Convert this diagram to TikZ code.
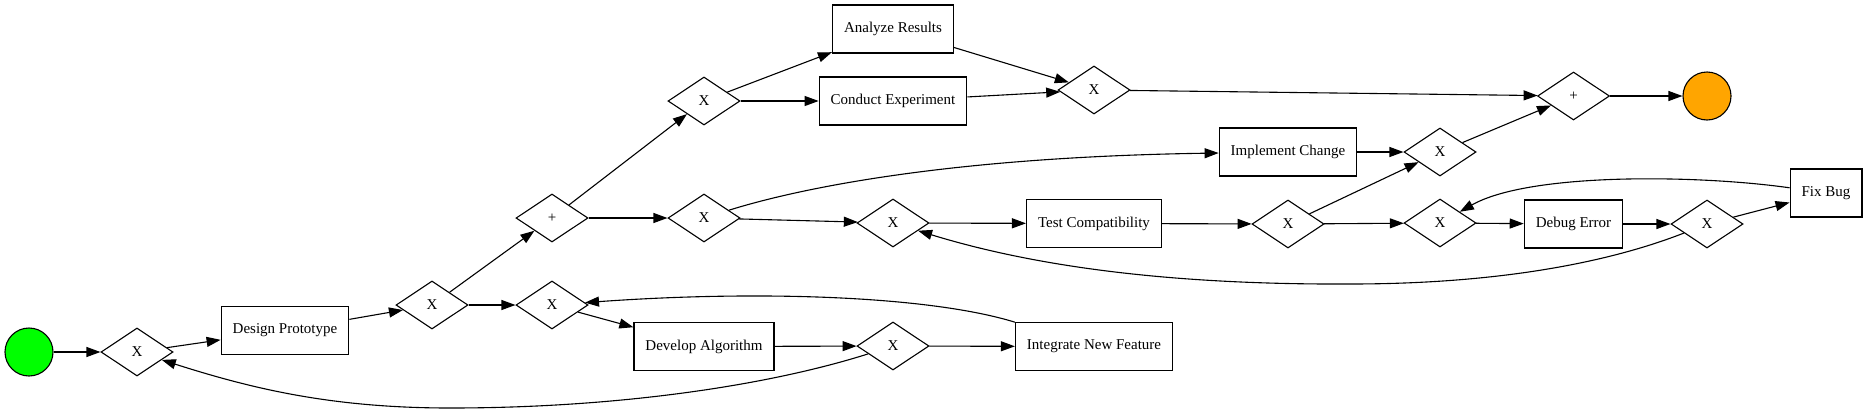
\documentclass[tikz,border=0pt]{standalone}
\usepackage{fontspec}
\setmainfont{Liberation Serif}
\usetikzlibrary{shapes.geometric,arrows.meta}
\tikzset{
  task/.style={draw, line width=1.2pt, rectangle, minimum height=48pt, inner xsep=11.5pt, font=\fontsize{15}{18}\selectfont},
  gate/.style={draw, line width=1.1pt, diamond, minimum width=72pt, minimum height=48pt, inner sep=0pt, font=\fontsize{15}{18}\selectfont},
  event/.style={draw, line width=1.1pt, circle, minimum size=48pt, inner sep=0pt},
  flow/.style={line width=1.1pt, -{Triangle[length=14pt,width=10pt]}}
}
\begin{document}
\begin{tikzpicture}[x=1pt,y=1pt]
  \useasboundingbox (0,0) rectangle (1868,-413);
  % 事件
  \node[event, fill={rgb,255:red,0;green,255;blue,0}] (start) at (29,-352) {};
  \node[event, fill={rgb,255:red,255;green,165;blue,0}] (finish) at (1707,-96) {};
  % 任务
  \node[task] (design) at (285,-330.5) {Design Prototype};
  \node[task] (develop) at (704,-346.5) {Develop Algorithm};
  \node[task] (integrate) at (1094,-346.5) {Integrate New Feature};
  \node[task] (analyze) at (893,-29) {Analyze Results};
  \node[task] (conduct) at (893,-101) {Conduct Experiment};
  \node[task] (implement) at (1288,-152) {Implement Change};
  \node[task] (test) at (1094,-223.5) {Test Compatibility};
  \node[task] (debug) at (1573.5,-224) {Debug Error};
  \node[task] (fixbug) at (1826,-193) {Fix Bug};
  % 网关
  \node[gate] (xa) at (137,-352) {X};
  \node[gate] (xb) at (432,-305) {X};
  \node[gate] (xc) at (552,-305) {X};
  \node[gate] (xd) at (893,-346) {X};
  \node[gate] (pa) at (552,-218) {+};
  \node[gate] (xe) at (704,-101) {X};
  \node[gate] (xf) at (704,-218) {X};
  \node[gate] (xg) at (1094,-90) {X};
  \node[gate] (xh) at (893,-223) {X};
  \node[gate] (xi) at (1288,-224) {X};
  \node[gate] (xj) at (1440,-152) {X};
  \node[gate] (xk) at (1440,-223) {X};
  \node[gate] (xl) at (1707,-224) {X};
  \node[gate] (pb) at (1573.5,-96) {+};
  % 连线
  \draw[flow] (start) -- (xa);
  \draw[flow] (xa) -- (design);
  \draw[flow] (design) -- (xb);
  \draw[flow] (xb) -- (pa);
  \draw[flow] (xb) -- (xc);
  \draw[flow] (xc) -- (develop);
  \draw[flow] (develop) -- (xd);
  \draw[flow] (xd) -- (integrate);
  \draw[flow] (pa) -- (xe);
  \draw[flow] (pa) -- (xf);
  \draw[flow] (xe) -- (analyze);
  \draw[flow] (xe) -- (conduct);
  \draw[flow] (analyze) -- (xg);
  \draw[flow] (conduct) -- (xg);
  \draw[flow] (xg) -- (pb);
  \draw[flow] (xf) -- (xh);
  \draw[flow] (xh) -- (test);
  \draw[flow] (test) -- (xi);
  \draw[flow] (xi) -- (xj);
  \draw[flow] (xi) -- (xk);
  \draw[flow] (implement) -- (xj);
  \draw[flow] (xj) -- (pb);
  \draw[flow] (pb) -- (finish);
  \draw[flow] (xk) -- (debug);
  \draw[flow] (debug) -- (xl);
  \draw[flow] (xl) -- (fixbug);
  \draw[flow] (xf) .. controls (800,-188) and (950,-157) .. (implement);
  % 回路
  \draw[flow] (integrate) .. controls (930,-296) and (760,-290) .. (xc);
  \draw[flow] (xd) .. controls (770,-385) and (620,-408) .. (450,-408)
                   .. controls (330,-408) and (250,-388) .. (xa);
  \draw[flow] (fixbug) .. controls (1700,-175) and (1530,-172) .. (xk);
  \draw[flow] (xl) .. controls (1610,-262) and (1500,-284) .. (1350,-284)
                   .. controls (1150,-285) and (1020,-262) .. (xh);
\end{tikzpicture}
\end{document}
